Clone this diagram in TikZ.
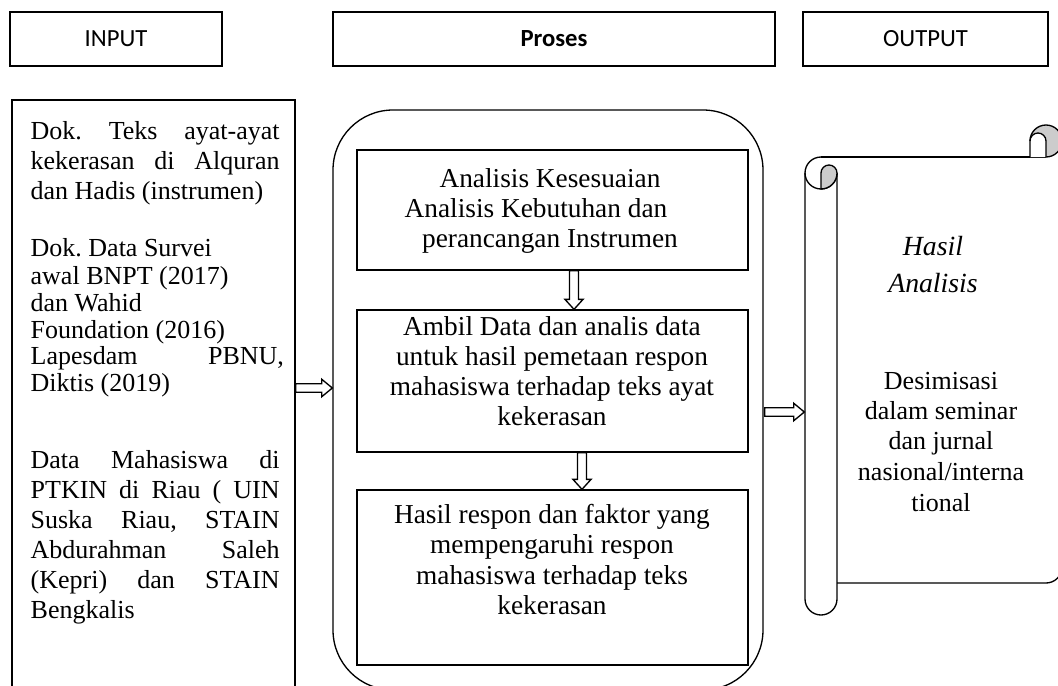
\documentclass[tikz,border=0pt]{standalone}
\usepackage{fontspec}
\setmainfont{Liberation Serif}
\newfontfamily\hfont{Carlito}
\usetikzlibrary{calc}
\frenchspacing
\newcommand\bodyfont{\fontsize{19.5}{22}\selectfont}
\newcommand\midfont{\fontsize{20.5}{23}\selectfont}
\newcommand\itfont{\fontsize{20.8}{23}\selectfont\itshape}
\newcommand\hdrfont{\hfont\fontsize{18.5}{20}\selectfont}
\newcommand\blkR[2]{\draw[barr] let \p1=(#1), \p2=(#2) in (\x1,\y1+3.2pt) -- (\x2-8pt,\y1+3.2pt) -- (\x2-8pt,\y1+6.6pt) -- (\x2,\y1) -- (\x2-8pt,\y1-6.6pt) -- (\x2-8pt,\y1-3.2pt) -- (\x1,\y1-3.2pt) -- cycle;}
\newcommand\blkD[2]{\draw[barr] let \p1=(#1), \p2=(#2) in (\x1-3.4pt,\y1) -- (\x1-3.4pt,\y2+7.5pt) -- (\x1-6.8pt,\y2+7.5pt) -- (\x1,\y2) -- (\x1+6.8pt,\y2+7.5pt) -- (\x1+3.4pt,\y2+7.5pt) -- (\x1+3.4pt,\y1) -- cycle;}
\begin{document}
\begin{tikzpicture}[x=0.75pt,y=-0.75pt,
  line width=1pt,
  hbox/.style={draw, minimum height=54*0.75pt, inner sep=0pt, font=\hdrfont},
  frame/.style={draw, inner sep=0pt},
  txt/.style={anchor=base, inner sep=0pt, font=\midfont},
  stxt/.style={anchor=base, inner sep=0pt, font=\bodyfont},
  ltxt/.style={anchor=base west, inner sep=0pt, font=\bodyfont},
  itxt/.style={anchor=base, inner sep=0pt, font=\itfont},
  barr/.style={draw, fill=white, line width=1pt, line join=miter},
  rollfill/.style={fill=black!20}]
\useasboundingbox (0,0) rectangle (1058,686);
\clip (0,0) rectangle (1058,686);
\fill[white] (0,0) rectangle (1058,686);

% headers
\node[hbox, minimum width=212*0.75pt] (inp) at (116,39) {INPUT};
\node[hbox, minimum width=442*0.75pt] (pro) at (554,39) {\bfseries Proses};
\node[hbox, minimum width=245*0.75pt] (out) at (925.5,39) {OUTPUT};

% left input box
\node[frame, minimum width=283*0.75pt, minimum height=620*0.75pt] (lb) at (153.5,410) {};
\newcommand\jl[1]{\makebox[186.75pt][s]{#1}}
\node[ltxt] (l1) at (30,139) {\jl{Dok. Teks ayat-ayat}};
\node[ltxt] (l2) at (30,169) {\jl{kekerasan di Alquran}};
\node[ltxt] (l3) at (30,199) {dan Hadis (instrumen)};
\node[ltxt] (l4) at (30,256) {Dok. Data Survei};
\node[ltxt] (l5) at (30,284) {awal BNPT (2017)};
\node[ltxt] (l6) at (30,311) {dan Wahid};
\node[ltxt] (l7) at (30,338) {Foundation (2016)};
\node[ltxt] (l8) at (30,364) {\makebox[190pt][s]{Lapesdam PBNU,}};
\node[ltxt] (l9) at (30,391) {Diktis (2019)};
\node[ltxt] (l10) at (30,468) {\jl{Data Mahasiswa di}};
\node[ltxt] (l11) at (30,498) {\jl{PTKIN di Riau ( UIN}};
\node[ltxt] (l12) at (30,528) {\jl{Suska Riau, STAIN}};
\node[ltxt] (l13) at (30,558) {\jl{Abdurahman Saleh}};
\node[ltxt] (l14) at (30,588) {\jl{(Kepri) dan STAIN}};
\node[ltxt] (l15) at (30,618) {Bengkalis};

% process rounded container
\node[frame, rounded corners=45pt, minimum width=430*0.75pt, minimum height=580*0.75pt] (rr) at (548,400) {};
\node[frame, minimum width=391*0.75pt, minimum height=120*0.75pt] (b1) at (552.5,210) {};
\node[frame, minimum width=391*0.75pt, minimum height=142*0.75pt] (b2) at (552.5,381) {};
\node[frame, minimum width=391*0.75pt, minimum height=175*0.75pt] (b3) at (552.5,577.5) {};

\node[txt] (p1) at (550,187) {Analisis Kesesuaian};
\node[txt] (p2) at (536,217) {Analisis Kebutuhan dan};
\node[txt] (p3) at (550,247) {perancangan Instrumen};
\node[txt] (q1) at (552,335) {Ambil Data dan analis data};
\node[txt] (q2) at (552,365) {untuk hasil pemetaan respon};
\node[txt] (q3) at (552,395) {mahasiswa terhadap teks ayat};
\node[txt] (q4) at (552,425) {kekerasan};
\node[txt] (r1) at (552,523) {Hasil respon dan faktor yang};
\node[txt] (r2) at (552,553) {mempengaruhi respon};
\node[txt] (r3) at (552,584) {mahasiswa terhadap teks};
\node[txt] (r4) at (552,614) {kekerasan};

% output scroll (horizontal scroll)
\node[inner sep=0pt, minimum width=257*0.75pt, minimum height=490*0.75pt] (scroll) at (933.5,370) {};
% paper edges
\draw (821,157) -- (1046,157);
\draw (837,583) -- (1046,583) arc[start angle=90, end angle=0, radius=16] -- (1062,141);
% left roll
\draw (821,157) arc[start angle=270, end angle=180, radius=16] -- (805,599)
      arc[start angle=180, end angle=0, radius=16] -- (837,173);
\draw (805,173) arc[start angle=180, end angle=0, radius=16];
\filldraw[rollfill] (821,189) -- (821,173) arc[start angle=180, end angle=360, radius=8]
      arc[start angle=0, end angle=90, radius=16] -- cycle;
% top-right curl
\fill[rollfill] (1046,141) circle[radius=16];
\fill[white] (1030,157) -- (1030,141) arc[start angle=180, end angle=360, radius=8] -- (1046,157) -- cycle;
\draw (1030,157) -- (1030,141) arc[start angle=180, end angle=450, radius=16];
\draw (1030,141) arc[start angle=180, end angle=360, radius=8] -- (1046,157);

\node[itxt] (s1) at (933,255) {Hasil};
\node[itxt] (s2) at (933,292) {Analisis};
\node[stxt] (s3) at (941,389) {Desimisasi};
\node[stxt] (s4) at (941,419) {dalam seminar};
\node[stxt] (s5) at (941,449) {dan jurnal};
\node[stxt] (s6) at (941,480) {nasional/interna};
\node[stxt] (s7) at (941,511) {tional};

% block arrows
\coordinate (a1s) at ($(lb.east)+(0,-22)$);
\coordinate (a1e) at (rr.west |- a1s);
\blkR{a1s}{a1e}
\coordinate (a2s) at ($(rr.east)+(1,12)$);
\coordinate (a2e) at (scroll.west |- a2s);
\blkR{a2s}{a2e}
\coordinate (d1s) at ($(b1.south)+(21.5,0)$);
\coordinate (d1e) at ($(b2.north)+(21.5,0)$);
\blkD{d1s}{d1e}
\coordinate (d2s) at ($(b2.south)+(29.5,0)$);
\coordinate (d2e) at ($(b3.north)+(29.5,0)$);
\blkD{d2s}{d2e}
\end{tikzpicture}
\end{document}
